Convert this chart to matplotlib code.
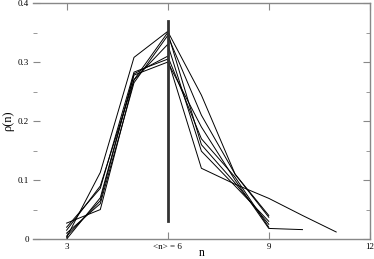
import numpy as np
import matplotlib
matplotlib.use("Agg")
import matplotlib.pyplot as plt

# distributions rho(n), one list per curve
n_a = [3, 4, 5, 6, 7, 8, 9]
rho_a = [0.027, 0.050, 0.270, 0.330, 0.149, 0.090, 0.030]
n_b = [3, 4, 5, 6, 7, 8, 9]
rho_b = [0.003, 0.113, 0.308, 0.352, 0.244, 0.110, 0.040]
n_c = [3, 4, 5, 6, 7, 8, 9, 10, 11]
rho_c = [0.020, 0.086, 0.283, 0.305, 0.120, 0.093, 0.069, 0.040, 0.012]
n_d = [3, 4, 5, 6, 7, 8, 9, 10]
rho_d = [0.000, 0.070, 0.278, 0.300, 0.190, 0.100, 0.018, 0.016]
n_e = [3, 4, 5, 6, 7, 8, 9]
rho_e = [0.010, 0.060, 0.265, 0.345, 0.210, 0.110, 0.037]
n_f = [3, 4, 5, 6, 7, 8, 9]
rho_f = [0.005, 0.065, 0.280, 0.310, 0.170, 0.105, 0.020]
n_g = [3, 4, 5, 6, 7, 8, 9]
rho_g = [0.015, 0.090, 0.270, 0.350, 0.160, 0.095, 0.025]

mean_n = 6
mean_lo, mean_hi = 0.03, 0.37
xticks = [3, 6, 9, 12]
xticklabels = ["3", "<n> = 6", "9", "12"]
yticks = [0, 0.1, 0.2, 0.3, 0.4]
yticklabels = ["0", "0.1", "0.2", "0.3", "0.4"]

plt.rcParams['font.family'] = ['Liberation Serif', 'DejaVu Serif']

fig = plt.figure(figsize=(3.74, 2.59), dpi=100)
ax = fig.add_axes([0.088, 0.077, 0.901, 0.911])

for nn, rr in [(n_a, rho_a), (n_b, rho_b), (n_c, rho_c), (n_d, rho_d),
               (n_e, rho_e), (n_f, rho_f), (n_g, rho_g)]:
    ax.plot(nn, rr, color="black", lw=0.7)

ax.plot([mean_n, mean_n], [mean_lo, mean_hi], color="#333333", lw=2)

ax.set_xlim(2, 12)
ax.set_ylim(0, 0.4)
ax.set_xticks(xticks)
ax.set_xticklabels(xticklabels)
ax.set_yticks(yticks)
ax.set_yticklabels(yticklabels)
ax.set_yticks(np.arange(0.05, 0.4, 0.1), minor=True)
ax.tick_params(axis="both", which="both", direction="in", labelsize=6.5,
               top=True, right=True, color="#888888", pad=3)
ax.tick_params(which="major", length=5)
ax.tick_params(which="minor", length=3)
ax.spines["left"].set_visible(False)
for s in ["top", "right", "bottom"]:
    ax.spines[s].set_color("#888888")
    ax.spines[s].set_linewidth(1)

ax.set_xlabel("n", fontsize=8.5, labelpad=-3)
ax.set_ylabel("ρ(n)", fontsize=9, labelpad=2)

fig.savefig("out.png", dpi=100)
